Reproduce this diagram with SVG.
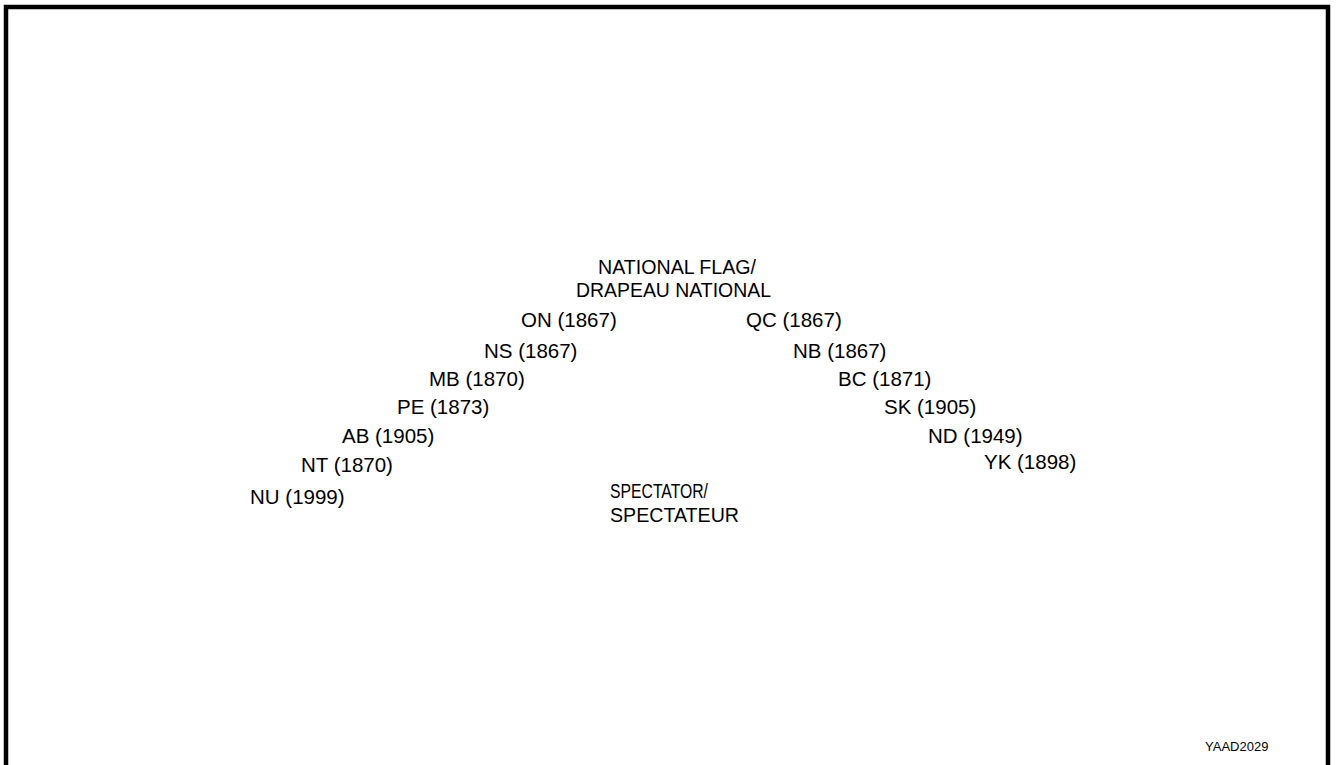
<svg xmlns="http://www.w3.org/2000/svg" width="1336" height="765" viewBox="0 0 1336 765">
<style>
text{font-family:"Liberation Sans",Arial,sans-serif;font-size:20.5px;fill:#000}
.small{font-size:13px}
</style>
<rect width="1336" height="765" fill="#fff"/>
<path d="M6,765 V7 H1328 V765" fill="none" stroke="#000" stroke-width="4.5"/>
<g id="flag"><text x="598" y="274" textLength="158" lengthAdjust="spacingAndGlyphs">NATIONAL FLAG/</text><text x="576" y="297" textLength="195" lengthAdjust="spacingAndGlyphs">DRAPEAU NATIONAL</text></g>
<g id="on"><text x="521" y="327">ON (1867)</text></g>
<g id="qc"><text x="746" y="327">QC (1867)</text></g>
<g id="ns"><text x="484" y="358">NS (1867)</text></g>
<g id="nb"><text x="793" y="358">NB (1867)</text></g>
<g id="mb"><text x="429" y="386">MB (1870)</text></g>
<g id="bc"><text x="838" y="386">BC (1871)</text></g>
<g id="pe"><text x="397" y="414">PE (1873)</text></g>
<g id="sk"><text x="884" y="414">SK (1905)</text></g>
<g id="ab"><text x="342" y="443">AB (1905)</text></g>
<g id="nd"><text x="928" y="443">ND (1949)</text></g>
<g id="nt"><text x="301" y="472">NT (1870)</text></g>
<g id="yk"><text x="984" y="469">YK (1898)</text></g>
<g id="nu"><text x="250" y="504">NU (1999)</text></g>
<g id="spectator"><text x="610" y="498" textLength="98" lengthAdjust="spacingAndGlyphs">SPECTATOR/</text><text x="610" y="522" textLength="129" lengthAdjust="spacingAndGlyphs">SPECTATEUR</text></g>
<g id="connectors"></g>
<text class="small" x="1205" y="751">YAAD2029</text>
</svg>
